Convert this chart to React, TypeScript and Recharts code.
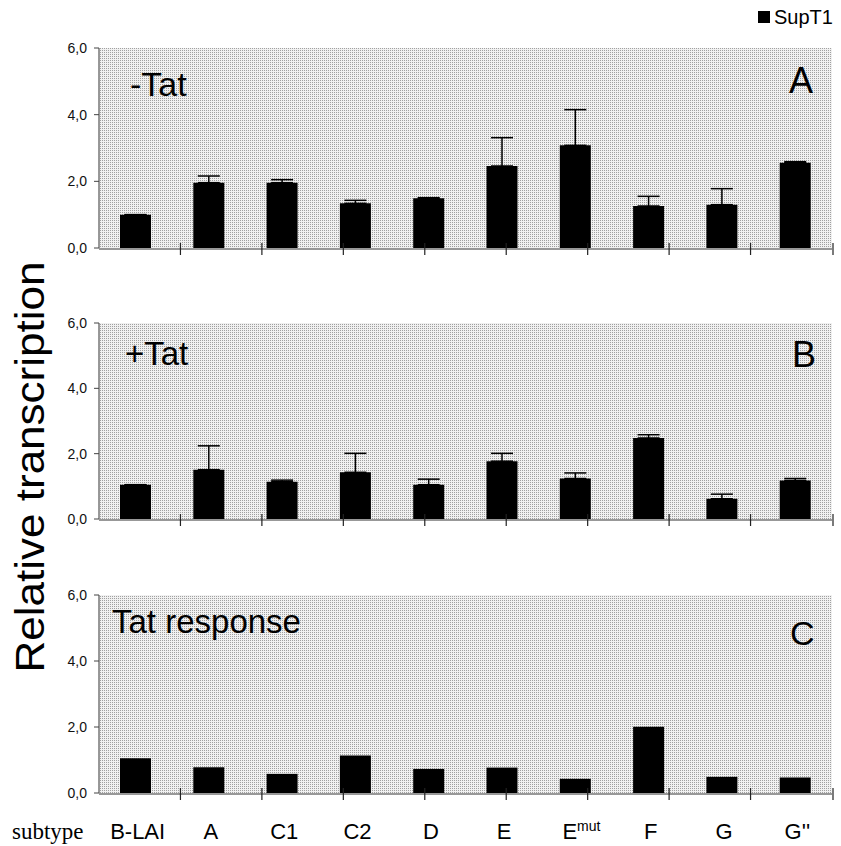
import React from "react";
import { BarChart, Bar, XAxis, YAxis, CartesianGrid, ErrorBar } from "recharts";

const subtypes = ["B-LAI", "A", "C1", "C2", "D", "E", "Emut", "F", "G", "G''"];

// panel A: -Tat
const minusTat = [1.0, 1.96, 1.96, 1.34, 1.49, 2.46, 3.08, 1.26, 1.3, 2.56];
const minusTatErr = [0, 0.2, 0.09, 0.09, 0.02, 0.85, 1.07, 0.29, 0.48, 0.03];

// panel B: +Tat
const plusTat = [1.05, 1.51, 1.14, 1.43, 1.05, 1.77, 1.24, 2.48, 0.62, 1.18];
const plusTatErr = [0, 0.73, 0.05, 0.58, 0.17, 0.24, 0.17, 0.1, 0.14, 0.06];

// panel C: Tat response
const tatResponse = [1.05, 0.78, 0.58, 1.14, 0.73, 0.77, 0.43, 2.01, 0.49, 0.47];

const yTicks = [0, 2, 4, 6];
const boundaryTicks = [1, 2, 3, 4, 5, 6, 7, 8, 9, 10];

const SANS = "'Liberation Sans', Arial, sans-serif";
const SERIF = "'Liberation Serif', 'Times New Roman', serif";

const W = 841;

function BoundaryTick(props: any) {
  const { x, y } = props;
  return <line x1={x} x2={x} y1={y - 6} y2={y + 6} stroke="#222" strokeWidth={1.2} />;
}

function SubtypeTick(props: any) {
  const { x, y, payload } = props;
  const base = y + 46;
  if (payload.value === "Emut") {
    return (
      <text x={x + 6} y={base} textAnchor="middle" fontFamily={SANS} fontSize={22} fill="#000">
        <tspan>E</tspan>
        <tspan fontSize={14} dy={-8}>
          mut
        </tspan>
      </text>
    );
  }
  return (
    <text x={x + 2} y={base} textAnchor="middle" fontFamily={SANS} fontSize={22} fill="#000">
      {payload.value}
    </text>
  );
}

interface PanelProps {
  values: number[];
  errors?: number[];
  top: number;
  height: number;
  marginTop: number;
  marginBottom: number;
  showLabels?: boolean;
}

function Panel({ values, errors, top, height, marginTop, marginBottom, showLabels }: PanelProps) {
  const data = subtypes.map((s, i) => ({
    subtype: s,
    value: values[i],
    err: errors ? [0, errors[i]] : [0, 0],
  }));

  return (
    <div style={{ position: "absolute", left: 0, top, width: W, height }}>
      <BarChart
        width={W}
        height={height}
        data={data}
        margin={{ top: marginTop, right: 9, bottom: marginBottom, left: 39 }}
      >
        <CartesianGrid fill="url(#stipple)" horizontal={false} vertical={false} />
        <XAxis
          xAxisId="grid"
          type="number"
          domain={[0, 10]}
          ticks={boundaryTicks}
          allowDataOverflow
          height={1}
          tickSize={0}
          tickMargin={0}
          tickLine={false}
          tick={<BoundaryTick />}
          axisLine={{ stroke: "#333", strokeWidth: 1.2 }}
        />
        <XAxis
          dataKey="subtype"
          height={1}
          axisLine={false}
          tickLine={false}
          tickSize={0}
          tickMargin={0}
          interval={0}
          tick={showLabels ? <SubtypeTick /> : false}
        />
        <YAxis
          domain={[0, 6]}
          ticks={yTicks}
          width={60}
          tickSize={5}
          tickMargin={7}
          axisLine={{ stroke: "#777", strokeWidth: 1.5 }}
          tickLine={{ stroke: "#444" }}
          tick={{ fill: "#111", fontSize: 14, fontFamily: SANS }}
          tickFormatter={(v: number) => v.toFixed(1).replace(".", ",")}
        />
        <Bar dataKey="value" fill="#000" barSize={31} isAnimationActive={false}>
          {errors && (
            <ErrorBar
              dataKey="err"
              direction="y"
              width={11}
              stroke="#000"
              strokeWidth={1.5}
              isAnimationActive={false}
            />
          )}
        </Bar>
      </BarChart>
    </div>
  );
}

export default function App() {
  return (
    <div style={{ position: "absolute", left: 0, top: 0, width: W, height: 846, background: "#fff" }}>
      <svg width={0} height={0} style={{ position: "absolute" }}>
        <defs>
          <pattern id="stipple" width={2} height={2} patternUnits="userSpaceOnUse">
            <rect width={2} height={2} fill="#f1f1f1" />
            <rect width={1} height={1} fill="#a0a0a0" />
          </pattern>
        </defs>
      </svg>

      <Panel values={minusTat} errors={minusTatErr} top={0} height={262} marginTop={48} marginBottom={12} />
      <Panel values={plusTat} errors={plusTatErr} top={262} height={268} marginTop={61} marginBottom={9} />
      <Panel values={tatResponse} top={530} height={316} marginTop={65} marginBottom={51} showLabels />

      <svg
        width={W}
        height={846}
        style={{ position: "absolute", left: 0, top: 0, pointerEvents: "none" }}
      >
        <g fontFamily={SANS} fill="#000">
          <rect x={758} y={11} width={12} height={12} fill="#000" />
          <text x={774} y={24} fontSize={20}>
            SupT1
          </text>

          <text x={130} y={96} fontSize={34}>
            -Tat
          </text>
          <text x={789} y={93} fontSize={36}>
            A
          </text>

          <text x={125} y={365} fontSize={33}>
            +Tat
          </text>
          <text x={792} y={367} fontSize={36}>
            B
          </text>

          <text x={112} y={633} fontSize={33}>
            Tat response
          </text>
          <text x={790} y={645} fontSize={34}>
            C
          </text>

          <text
            transform="translate(44,467) rotate(-90)"
            textAnchor="middle"
            fontSize={40}
            textLength={411}
            lengthAdjust="spacingAndGlyphs"
          >
            Relative transcription
          </text>
        </g>
        <text x={12} y={839} fontFamily={SERIF} fontSize={23} fill="#000">
          subtype
        </text>
      </svg>
    </div>
  );
}
